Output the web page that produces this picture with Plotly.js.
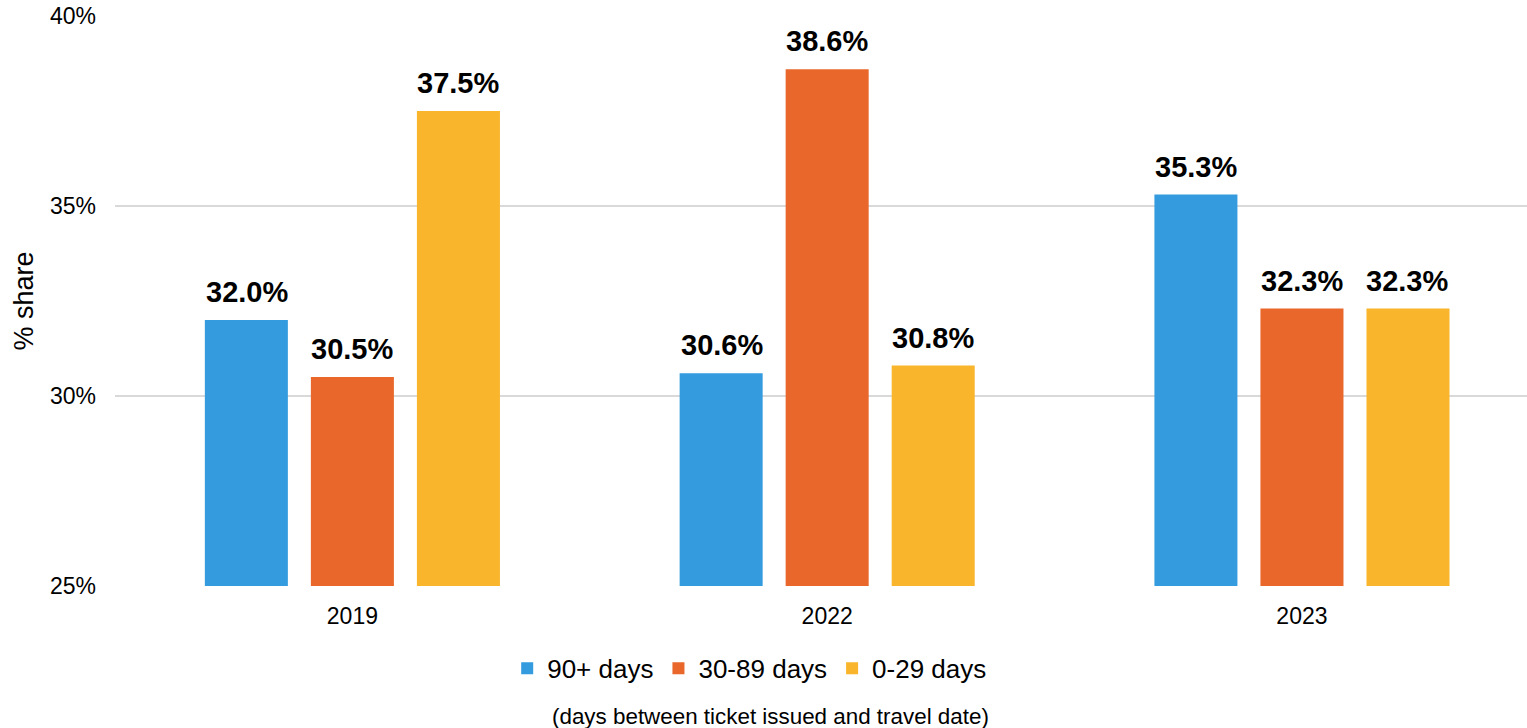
<!DOCTYPE html>
<html>
<head>
<meta charset="utf-8">
<script src="https://cdn.plot.ly/plotly-3.0.1.min.js"></script>
<style>html,body{margin:0;padding:0;background:#fff;}#chart{width:1527px;height:728px;}</style>
</head>
<body>
<div id="chart"></div>
<script>
const years = ['2019', '2022', '2023'];
const seriesNames = ['90+ days', '30-89 days', '0-29 days'];
const days90plus = [32.0, 30.6, 35.3];
const days30to89 = [30.5, 38.6, 32.3];
const days0to29 = [37.5, 30.8, 32.3];
const yTickVals = [25, 30, 35, 40];
const yTickText = ['25%', '30%', '35%', '40%'];
const colors = ['#339BDE', '#E9672B', '#F9B52B'];

const FONT = 'Liberation Sans, Arial, sans-serif';
const seriesValues = [days90plus, days30to89, days0to29];

const traces = seriesValues.map((vals, i) => ({
  type: 'bar',
  name: seriesNames[i],
  x: years,
  y: vals,
  marker: {color: colors[i]},
  hoverinfo: 'skip'
}));

// value labels above each bar, placed in data coordinates (category index, value)
const BAR_STEP_PX = 105.5;
const labelAnnotations = [];
seriesValues.forEach((vals, i) => {
  vals.forEach((v, j) => {
    labelAnnotations.push({
      x: j, y: v, xref: 'x', yref: 'y',
      xshift: (i - 1) * BAR_STEP_PX,
      yshift: 10,
      xanchor: 'center', yanchor: 'bottom',
      showarrow: false,
      text: v.toFixed(1) + '%',
      font: {family: FONT, size: 29, color: '#000', weight: 'bold'}
    });
  });
});

const layout = {
  width: 1527,
  height: 728,
  margin: {l: 115, r: 0, t: 16, b: 142},
  paper_bgcolor: '#fff',
  plot_bgcolor: '#fff',
  font: {family: FONT, size: 23, color: '#000'},
  barmode: 'group',
  bargap: 0.33,
  bargroupgap: 0.217,
  xaxis: {
    type: 'category',
    range: [-0.5, 2.474],
    showgrid: false,
    showline: false,
    zeroline: false,
    ticks: '',
    ticklabelstandoff: 14,
    tickfont: {family: FONT, size: 23, color: '#000'}
  },
  yaxis: {
    range: [25, 40],
    tickvals: yTickVals,
    ticktext: yTickText,
    showgrid: true,
    gridcolor: '#D9D9D9',
    gridwidth: 1.5,
    zeroline: false,
    showline: false,
    ticks: '',
    ticklabelstandoff: 18,
    tickfont: {family: FONT, size: 23, color: '#000'},
    title: {text: '% share', font: {family: FONT, size: 27, color: '#000'}, standoff: 8}
  },
  showlegend: true,
  legend: {
    orientation: 'h',
    x: 0.4495,
    xanchor: 'center',
    yref: 'container',
    y: 0.082,
    yanchor: 'middle',
    font: {family: FONT, size: 26, color: '#000'},
    itemclick: false,
    itemdoubleclick: false
  },
  annotations: labelAnnotations.concat([{
    text: '(days between ticket issued and travel date)',
    xref: 'paper', yref: 'paper',
    x: 0.464, y: -0.229,
    xanchor: 'center', yanchor: 'middle',
    showarrow: false,
    font: {family: FONT, size: 22.4, color: '#000'}
  }])
};

Plotly.newPlot('chart', traces, layout, {displayModeBar: false, staticPlot: true});
</script>
</body>
</html>
